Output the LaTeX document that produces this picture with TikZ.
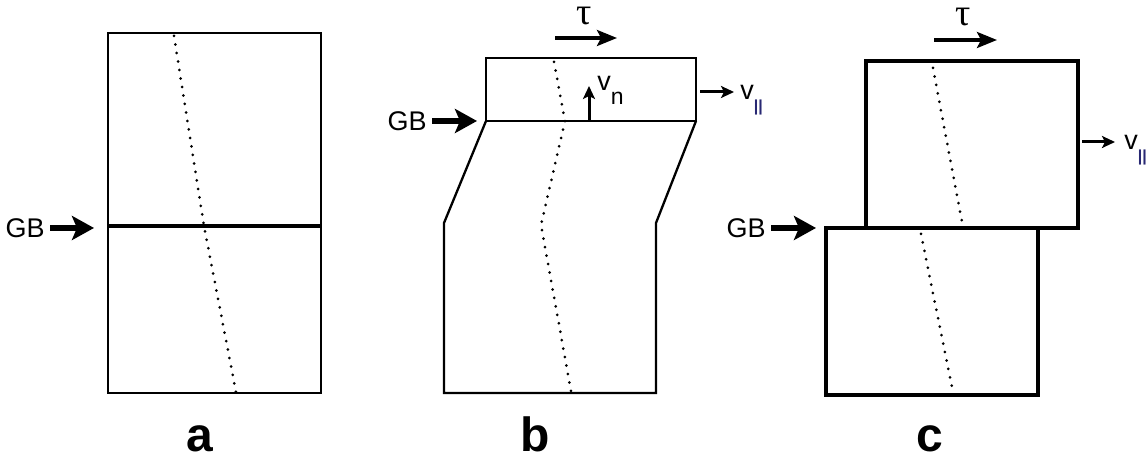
\documentclass[tikz,border=0pt]{standalone}
\usepackage{fontspec}
\setmainfont{Liberation Sans}
\newfontfamily\taufont{Liberation Serif}
\usetikzlibrary{arrows.meta}
\definecolor{navy}{RGB}{40,40,115}
\newcommand{\parsub}{\raisebox{-5.8pt}{\textcolor{navy}{\fontsize{8}{8}\selectfont\bfseries ||}}}
\begin{document}
\begin{tikzpicture}[x=0.5pt,y=-0.5pt,
 thinline/.style={line width=1.15pt, line join=miter},
 thickline/.style={line width=1.6pt, line join=miter},
 dotline/.style={line width=1.5pt, dash pattern=on 0pt off 4.3pt, line cap=round},
 gbarrow/.style={line width=2.6pt, -{Stealth[length=11pt,width=12pt,inset=2.5pt]}},
 tauarrow/.style={line width=1.6pt, -{Stealth[length=10pt,width=8pt,inset=2pt]}},
 smallarrow/.style={line width=1.5pt, -{Stealth[length=6.5pt,width=6pt,inset=1.5pt]}},
 lbl/.style={font=\fontsize{13.5}{16}\selectfont, inner sep=2.5pt},
 vlbl/.style={font=\fontsize{13.5}{16}\selectfont, inner sep=0pt},
 panel/.style={font=\fontsize{24}{28}\selectfont\bfseries, inner sep=0pt},
 taulbl/.style={font=\fontsize{19}{20}\selectfont\taufont, inner sep=0pt}
]
\useasboundingbox (0,0) rectangle (1148,458);

% ---------- panel a ----------
\draw[thinline] (108,33) rectangle (321,393);
\draw[line width=2.1pt] (108,226) -- (321,226);
\draw[dotline] (174,36) -- (204,226) -- (236,392);
\node[lbl, anchor=east] (gba) at (50,228) {GB};
\coordinate (gbatip) at (94,228);
\draw[gbarrow] (gba.east) -- (gbatip);
\node[panel, anchor=base] (la) at (200,452) {a};

% ---------- panel b ----------
\draw[thinline] (486,58) rectangle (696,121);
\draw[thinline] (486,121) -- (444,223) -- (444,393) -- (656,393) -- (656,223) -- (696,121);
\draw[dotline] (554,62) -- (565,121) -- (541,225) -- (571,391);
\node[lbl, anchor=east] (gbb) at (432,121) {GB};
\coordinate (gbbtip) at (477,121);
\draw[gbarrow] (gbb.east) -- (gbbtip);
\coordinate (tauba) at (555,38);
\coordinate (taubb) at (617,38);
\draw[tauarrow] (tauba) -- (taubb);
\node[taulbl, anchor=base] (taub) at (584,25) {τ};
\coordinate (vnfoot) at (589,121);
\coordinate (vntip) at (589,86);
\draw[smallarrow] (vnfoot) -- (vntip);
\node[vlbl, anchor=base west] (vn) at (597,91) {v\raisebox{-7pt}{\fontsize{11.5}{12}\selectfont n}};
\coordinate (vpba) at (700,92);
\coordinate (vpbb) at (734,92);
\draw[smallarrow] (vpba) -- (vpbb);
\node[vlbl, anchor=base west] (vpb) at (740,100) {v\parsub};
\node[panel, anchor=base] (lb) at (535,452) {b};

% ---------- panel c ----------
\draw[thickline] (866,61) rectangle (1078,228);
\draw[thickline] (826,228) rectangle (1038,395);
\draw[dotline] (933,68) -- (962,222);
\draw[dotline] (921,234) -- (953,392);
\node[lbl, anchor=east] (gbc) at (771,228) {GB};
\coordinate (gbctip) at (816,228);
\draw[gbarrow] (gbc.east) -- (gbctip);
\coordinate (tauca) at (934,40);
\coordinate (taucb) at (997,40);
\draw[tauarrow] (tauca) -- (taucb);
\node[taulbl, anchor=base] (tauc) at (963,26) {τ};
\coordinate (vpca) at (1082,142);
\coordinate (vpcb) at (1115,142);
\draw[smallarrow] (vpca) -- (vpcb);
\node[vlbl, anchor=base west] (vpc) at (1124,150) {v\parsub};
\node[panel, anchor=base] (lc) at (930,452) {c};
\end{tikzpicture}
\end{document}
